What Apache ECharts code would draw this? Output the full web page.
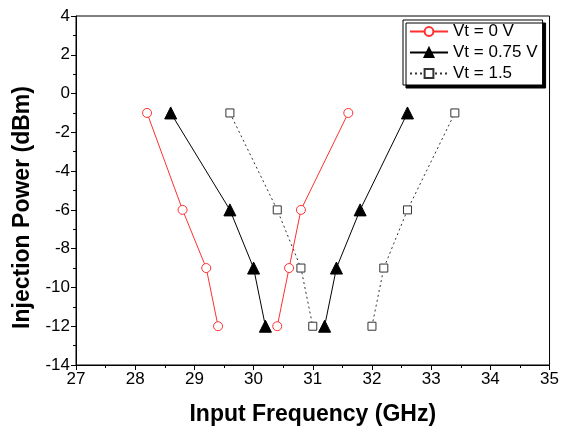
<!DOCTYPE html>
<html><head><meta charset="utf-8">
<script src="https://cdn.jsdelivr.net/npm/echarts@6/dist/echarts.min.js"></script>
<style>html,body{margin:0;padding:0;background:#fff}#c{width:562px;height:432px}</style>
</head><body><div id="c"></div>
<script>
// Vt = 0 V
const v0Left  = [[28.2,-1],[28.8,-6],[29.2,-9],[29.4,-12]];
const v0Right = [[30.4,-12],[30.6,-9],[30.8,-6],[31.6,-1]];
// Vt = 0.75 V
const v75Left  = [[28.6,-1],[29.6,-6],[30.0,-9],[30.2,-12]];
const v75Right = [[31.2,-12],[31.4,-9],[31.8,-6],[32.6,-1]];
// Vt = 1.5
const v15Left  = [[29.6,-1],[30.4,-6],[30.8,-9],[31.0,-12]];
const v15Right = [[32.0,-12],[32.2,-9],[32.6,-6],[33.4,-1]];
const names = ['Vt = 0 V','Vt = 0.75 V','Vt = 1.5'];

const font = '"Liberation Sans", Arial, sans-serif';
const styles = [
  {symbol:'circle', symbolSize:9, lineStyle:{color:'#ff3030',width:1,type:'solid'},
   itemStyle:{color:'#fff',borderColor:'#ff3030',borderWidth:1}},
  {symbol:'triangle', symbolSize:12, lineStyle:{color:'#000',width:1,type:'solid'},
   itemStyle:{color:'#000',borderColor:'#000',borderWidth:1}},
  {symbol:'rect', symbolSize:8, lineStyle:{color:'#333',width:1,type:[2,3]},
   itemStyle:{color:'#fff',borderColor:'#333',borderWidth:1}}
];
const groups = [[v0Left,v0Right],[v75Left,v75Right],[v15Left,v15Right]];
const series = [];
groups.forEach((g,i)=>{
  g.forEach(d=>{
    series.push(Object.assign({type:'line', name:names[i], data:d, showSymbol:true,
      animation:false, z: 3-i}, JSON.parse(JSON.stringify(styles[i]))));
  });
});

const axisCommon = {
  axisLine:{show:true,onZero:false,lineStyle:{color:'#000',width:1}},
  axisTick:{show:true,inside:false,length:5,lineStyle:{color:'#000'}},
  minorTick:{show:true,splitNumber:2,length:3,lineStyle:{color:'#000'}},
  splitLine:{show:false},
  axisLabel:{color:'#000',fontFamily:font,fontSize:17,margin:6},
  nameLocation:'middle',
  nameTextStyle:{color:'#000',fontFamily:font,fontSize:23,fontWeight:'bold'}
};

const chart = echarts.init(document.getElementById('c'),null,{renderer:'canvas'});
chart.setOption({
  animation:false,
  backgroundColor:'#fff',
  grid:{left:76,right:10,top:16,bottom:67,show:true,borderColor:'#000',borderWidth:1,backgroundColor:'transparent'},
  xAxis:Object.assign({type:'value',min:27,max:35,interval:1,name:'Input Frequency (GHz)',nameGap:38},axisCommon),
  yAxis:Object.assign({type:'value',min:-14,max:4,interval:2,name:'Injection Power (dBm)',nameGap:40},
    axisCommon,{nameTextStyle:Object.assign({},axisCommon.nameTextStyle,{padding:[0,34,0,0]})}),
  legend:{
    data:names, orient:'vertical', left:403, top:20,
    backgroundColor:'#fff', borderColor:'#000', borderWidth:1,
    shadowColor:'#000', shadowBlur:0, shadowOffsetX:3, shadowOffsetY:3,
    padding:[3,5,3,6], itemWidth:38, itemHeight:11, itemGap:4,
    textStyle:{color:'#000',fontFamily:font,fontSize:17}
  },
  series:series
});
</script></body></html>
